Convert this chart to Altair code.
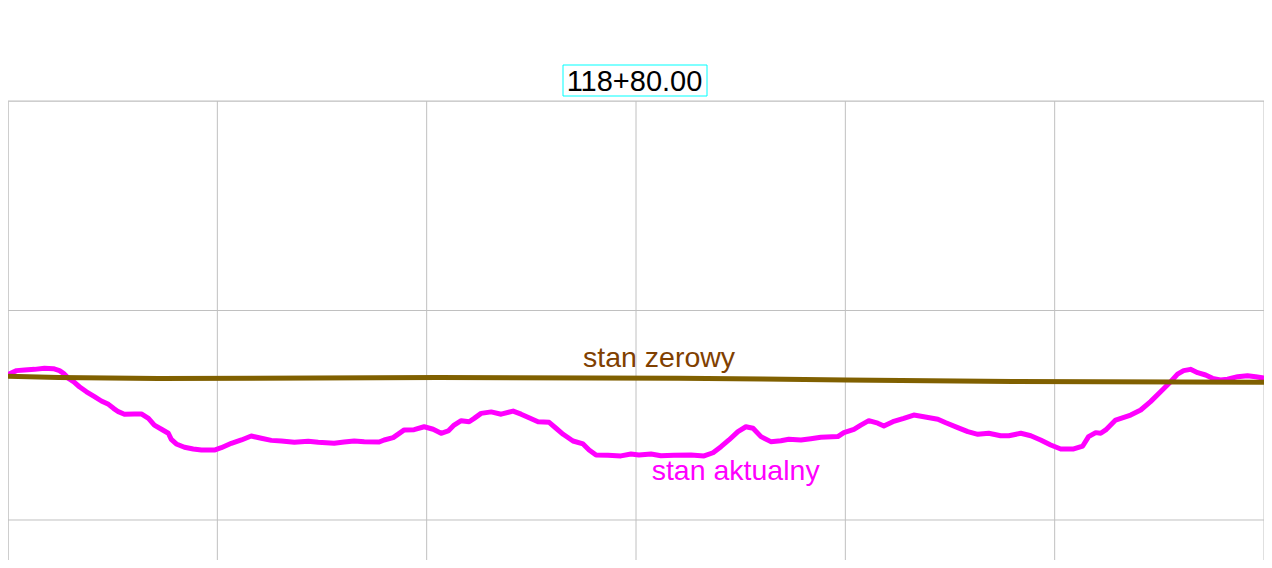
import altair as alt
import pandas as pd

# cross-section offset [m] and elevation [m]
aktualny_x = [-30.07, -29.59, -29.21, -28.73, -28.26, -27.83, -27.54, -27.35, -27.11, -26.87,
              -26.59, -26.25, -25.87, -25.54, -25.20, -24.96, -24.73, -24.44, -23.96, -23.63,
              -23.29, -23.01, -22.67, -22.34, -22.20, -21.96, -21.57, -21.15, -20.76, -20.14,
              -19.81, -19.33, -18.85, -18.38, -17.90, -17.42, -16.94, -16.32, -15.66, -15.18,
              -14.42, -13.94, -13.46, -12.98, -12.27, -12.03, -11.60, -11.36, -11.07, -10.60,
              -10.12, -9.69, -9.31, -8.97, -8.69, -8.35, -7.97, -7.73, -7.40, -6.92,
              -6.44, -5.87, -5.49, -5.11, -4.68, -4.15, -3.82, -3.48, -3.01, -2.53,
              -2.24, -1.91, -1.34, -0.72, -0.24, 0.14, 0.72, 1.19, 1.81, 2.63,
              3.25, 3.68, 4.06, 4.44, 4.87, 5.25, 5.59, 5.97, 6.44, 6.92,
              7.30, 7.88, 8.35, 8.83, 9.64, 9.93, 10.41, 10.74, 11.12, 11.55,
              11.84, 12.27, 12.79, 13.27, 13.75, 14.42, 14.80, 15.37, 15.85, 16.33,
              16.85, 17.42, 17.81, 18.38, 18.86, 19.33, 19.81, 20.29, 20.91, 21.34,
              21.62, 21.96, 22.20, 22.44, 22.91, 23.63, 24.11, 24.58, 25.06, 25.54,
              25.87, 26.16, 26.49, 26.83, 27.21, 27.54, 27.92, 28.26, 28.74, 29.21,
              29.60, 30.07]
aktualny_y = [101.692, 101.713, 101.716, 101.719, 101.724, 101.722, 101.713, 101.700, 101.676, 101.660,
              101.636, 101.612, 101.589, 101.568, 101.552, 101.533, 101.517, 101.505, 101.506, 101.506,
              101.485, 101.453, 101.433, 101.414, 101.385, 101.363, 101.347, 101.339, 101.334, 101.334,
              101.345, 101.366, 101.382, 101.401, 101.390, 101.380, 101.377, 101.371, 101.376, 101.371,
              101.366, 101.372, 101.377, 101.374, 101.372, 101.382, 101.393, 101.410, 101.430, 101.431,
              101.445, 101.433, 101.414, 101.425, 101.453, 101.474, 101.469, 101.485, 101.509, 101.516,
              101.505, 101.520, 101.505, 101.488, 101.469, 101.466, 101.438, 101.409, 101.377, 101.363,
              101.334, 101.310, 101.309, 101.306, 101.315, 101.310, 101.315, 101.307, 101.309, 101.310,
              101.306, 101.321, 101.350, 101.382, 101.422, 101.445, 101.438, 101.398, 101.374, 101.378,
              101.385, 101.382, 101.388, 101.395, 101.398, 101.417, 101.433, 101.453, 101.474, 101.462,
              101.449, 101.469, 101.485, 101.501, 101.493, 101.481, 101.464, 101.441, 101.422, 101.409,
              101.414, 101.402, 101.402, 101.414, 101.402, 101.382, 101.358, 101.339, 101.339, 101.353,
              101.398, 101.417, 101.414, 101.430, 101.477, 101.501, 101.525, 101.565, 101.612, 101.660,
              101.696, 101.713, 101.719, 101.703, 101.692, 101.676, 101.668, 101.672, 101.684, 101.689,
              101.684, 101.676]

zerowy_x = [-30.07, -27.59, -22.82, -9.45, 2.05, 6.06, 10.03, 13.99, 17.99, 30.07]
zerowy_y = [101.686, 101.680, 101.675, 101.680, 101.677, 101.673, 101.668, 101.665, 101.661, 101.657]

grid_x = [-30, -20, -10, 0, 10, 20, 30]
grid_y = [101, 102, 103]

title_text = "118+80.00"
label_zerowy = "stan zerowy"
label_aktualny = "stan aktualny"

df_akt = pd.DataFrame({"x": aktualny_x, "y": aktualny_y})
df_zer = pd.DataFrame({"x": zerowy_x, "y": zerowy_y})
df_gx = pd.DataFrame({"gx": grid_x})
df_gy = pd.DataFrame({"gy": grid_y})

xscale = alt.Scale(domain=[-30, 30], nice=False, zero=False)
yscale = alt.Scale(domain=[100.809, 103.0], nice=False, zero=False)

vgrid = alt.Chart(df_gx).mark_rule(color="#C0C0C0", strokeWidth=1).encode(
    x=alt.X("gx:Q", scale=xscale, axis=None)
)
hgrid = alt.Chart(df_gy).mark_rule(color="#C0C0C0", strokeWidth=1).encode(
    y=alt.Y("gy:Q", scale=yscale, axis=None)
)

akt = alt.Chart(df_akt).mark_line(color="#FF00FF", strokeWidth=5, strokeJoin="round").encode(
    x=alt.X("x:Q", scale=xscale, axis=None),
    y=alt.Y("y:Q", scale=yscale, axis=None),
)
zer = alt.Chart(df_zer).mark_line(color="#806000", strokeWidth=5, strokeJoin="round").encode(
    x=alt.X("x:Q", scale=xscale, axis=None),
    y=alt.Y("y:Q", scale=yscale, axis=None),
)

txt_zer = alt.Chart().mark_text(text=label_zerowy, font="Liberation Sans", fontSize=28.5,
                                color="#804000", align="left", baseline="alphabetic").encode(
    x=alt.XDatum(-2.53, type="quantitative", axis=None),
    y=alt.YDatum(101.730, type="quantitative", axis=None),
)
txt_akt = alt.Chart().mark_text(text=label_aktualny, font="Liberation Sans", fontSize=28.5,
                                color="#FF00FF", align="left", baseline="alphabetic").encode(
    x=alt.XDatum(0.75, type="quantitative", axis=None),
    y=alt.YDatum(101.191, type="quantitative", axis=None),
)

box = alt.Chart().mark_rect(fillOpacity=0, stroke="#00FFFF", strokeWidth=1).encode(
    x=alt.value(555), x2=alt.value(699), y=alt.value(-36), y2=alt.value(-5)
)
title = alt.Chart().mark_text(text=title_text, font="Liberation Sans", fontSize=29,
                              color="black", align="center", baseline="alphabetic").encode(
    x=alt.value(626.5), y=alt.value(-10)
)

chart = alt.layer(vgrid, hgrid, akt, zer, txt_zer, txt_akt, box, title).properties(
    width=1256,
    height=459,
    padding={"left": 0, "top": 93, "right": 0, "bottom": 0},
    autosize=alt.AutoSizeParams(type="none"),
).configure_view(strokeWidth=0).configure(background="white")

chart.save("out.html", embed_options={"renderer": "svg", "actions": False})
